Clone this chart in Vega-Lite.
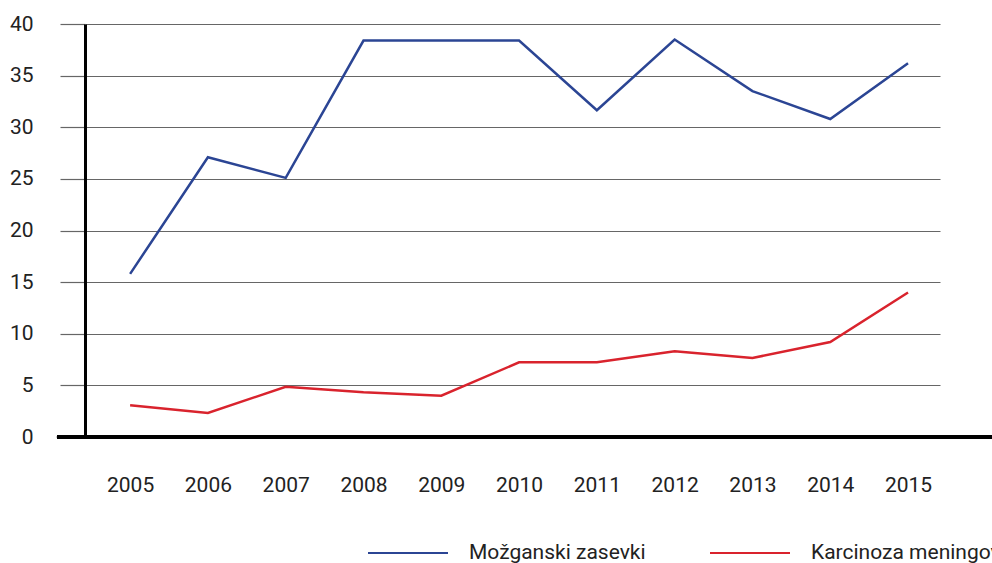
{
  "$schema": "https://vega.github.io/schema/vega-lite/v6.json",
  "width": 855,
  "height": 413,
  "autosize": "none",
  "padding": {"left": 85, "top": 24, "right": 52, "bottom": 126},
  "data": {
    "values": [
      {"Leto": 2005, "Skupina": "Možganski zasevki", "Vrednost": 15.8},
      {"Leto": 2006, "Skupina": "Možganski zasevki", "Vrednost": 27.1},
      {"Leto": 2007, "Skupina": "Možganski zasevki", "Vrednost": 25.1},
      {"Leto": 2008, "Skupina": "Možganski zasevki", "Vrednost": 38.4},
      {"Leto": 2009, "Skupina": "Možganski zasevki", "Vrednost": 38.4},
      {"Leto": 2010, "Skupina": "Možganski zasevki", "Vrednost": 38.4},
      {"Leto": 2011, "Skupina": "Možganski zasevki", "Vrednost": 31.65},
      {"Leto": 2012, "Skupina": "Možganski zasevki", "Vrednost": 38.5},
      {"Leto": 2013, "Skupina": "Možganski zasevki", "Vrednost": 33.5},
      {"Leto": 2014, "Skupina": "Možganski zasevki", "Vrednost": 30.8},
      {"Leto": 2015, "Skupina": "Možganski zasevki", "Vrednost": 36.2},
      {"Leto": 2005, "Skupina": "Karcinoza meningov", "Vrednost": 3.07},
      {"Leto": 2006, "Skupina": "Karcinoza meningov", "Vrednost": 2.32},
      {"Leto": 2007, "Skupina": "Karcinoza meningov", "Vrednost": 4.87},
      {"Leto": 2008, "Skupina": "Karcinoza meningov", "Vrednost": 4.33},
      {"Leto": 2009, "Skupina": "Karcinoza meningov", "Vrednost": 4.0},
      {"Leto": 2010, "Skupina": "Karcinoza meningov", "Vrednost": 7.23},
      {"Leto": 2011, "Skupina": "Karcinoza meningov", "Vrednost": 7.23},
      {"Leto": 2012, "Skupina": "Karcinoza meningov", "Vrednost": 8.3},
      {"Leto": 2013, "Skupina": "Karcinoza meningov", "Vrednost": 7.65},
      {"Leto": 2014, "Skupina": "Karcinoza meningov", "Vrednost": 9.2},
      {"Leto": 2015, "Skupina": "Karcinoza meningov", "Vrednost": 14.0}
    ]
  },
  "layer": [
    {
      "mark": {"type": "line", "strokeWidth": 2.5},
      "encoding": {
        "x": {
          "field": "Leto",
          "type": "quantitative",
          "scale": {"domain": [2004.42, 2015.411], "nice": false, "zero": false},
          "axis": {
            "values": [2005, 2006, 2007, 2008, 2009, 2010, 2011, 2012, 2013, 2014, 2015],
            "format": "d",
            "grid": false,
            "domain": false,
            "ticks": false,
            "labelPadding": 37,
            "title": null
          }
        },
        "y": {
          "field": "Vrednost",
          "type": "quantitative",
          "scale": {"domain": [0, 40], "nice": false},
          "axis": {
            "values": [0, 5, 10, 15, 20, 25, 30, 35, 40],
            "grid": true,
            "gridColor": "#666666",
            "gridWidth": 1.2,
            "tickColor": "#666666",
            "tickWidth": 1.2,
            "tickSize": 25,
            "domainColor": "#000000",
            "domainWidth": 3,
            "labelPadding": 27,
            "title": null
          }
        },
        "color": {
          "field": "Skupina",
          "type": "nominal",
          "scale": {
            "domain": ["Možganski zasevki", "Karcinoza meningov"],
            "range": ["#2b4594", "#d9232d"]
          },
          "legend": {
            "title": null,
            "orient": "none",
            "direction": "horizontal",
            "legendX": 282,
            "legendY": 488,
            "symbolType": "stroke",
            "symbolSize": 6400,
            "symbolStrokeWidth": 2,
            "labelOffset": 20,
            "columnPadding": 60,
            "labelFontSize": 21,
            "labelLimit": 0
          }
        }
      }
    },
    {
      "mark": {"type": "rule", "color": "#000000", "strokeWidth": 3.5},
      "encoding": {
        "x": {"datum": 2004.06},
        "x2": {"datum": 2016.3},
        "y": {"datum": 0}
      }
    }
  ],
  "config": {
    "view": {"stroke": null},
    "font": "Roboto",
    "axis": {"labelFontSize": 21, "labelColor": "#222222", "labelFont": "Roboto"},
    "legend": {"labelColor": "#222222", "labelFont": "Roboto"}
  }
}
